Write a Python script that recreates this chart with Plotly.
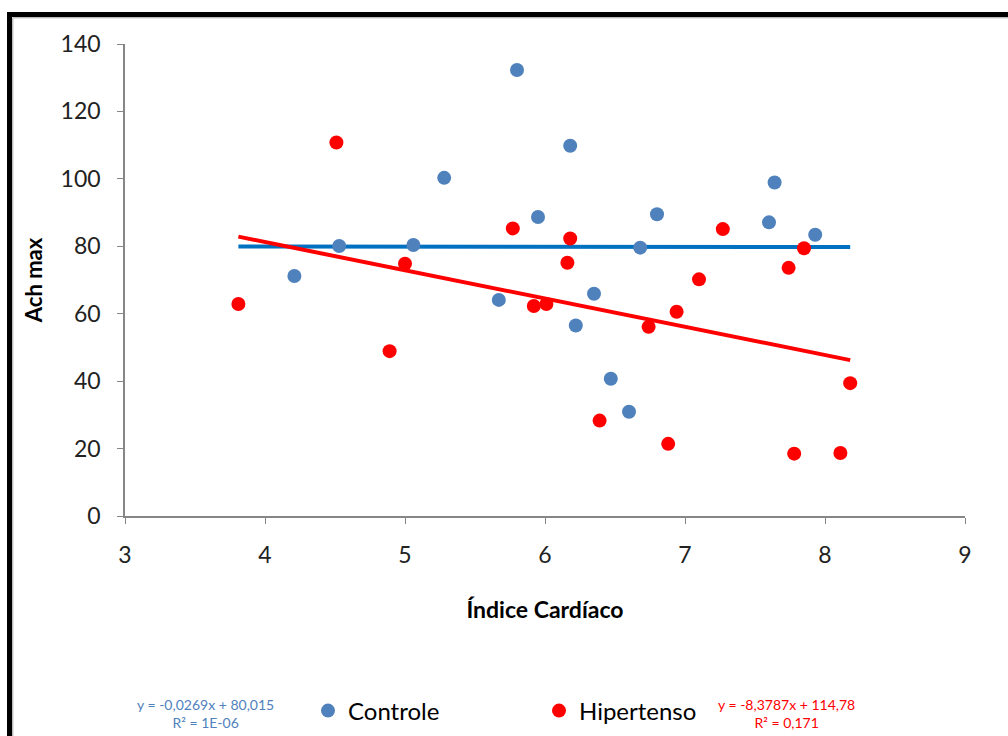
import plotly.graph_objects as go

# Controle series
ctrl_x = [4.21, 4.53, 5.06, 5.28, 5.67, 5.80, 5.95, 6.18, 6.22, 6.35, 6.47, 6.60, 6.68, 6.80, 7.60, 7.64, 7.93]
ctrl_y = [71.2, 80.1, 80.4, 100.3, 64.1, 132.3, 88.7, 109.8, 56.5, 65.9, 40.7, 30.9, 79.6, 89.5, 87.1, 98.9, 83.4]

# Hipertenso series
hip_x = [3.81, 4.51, 4.89, 5.00, 5.77, 5.92, 6.01, 6.16, 6.18, 6.39, 6.74, 6.88, 6.94, 7.10, 7.27, 7.74, 7.78, 7.85, 8.11, 8.18]
hip_y = [62.9, 110.8, 48.9, 74.8, 85.3, 62.3, 62.9, 75.1, 82.3, 28.3, 56.1, 21.4, 60.6, 70.2, 85.1, 73.6, 18.5, 79.4, 18.7, 39.4]

# Trendline coefficients (from chart labels)
ctrl_slope, ctrl_icpt = -0.0269, 80.015
hip_slope, hip_icpt = -8.3787, 114.78
trend_x = [3.81, 8.18]

ctrl_eq = "y = -0,0269x + 80,015<br>R² = 1E-06"
hip_eq = "y = -8,3787x + 114,78<br>R² = 0,171"

FONT = "Lato, 'Open Sans', sans-serif"
BLUE = "#4F81BD"
RED = "#FF0000"

fig = go.Figure()
fig.add_trace(go.Scatter(x=trend_x, y=[ctrl_slope * v + ctrl_icpt for v in trend_x], mode="lines",
                         line=dict(color="#0070C0", width=4), showlegend=False, hoverinfo="skip"))
fig.add_trace(go.Scatter(x=trend_x, y=[hip_slope * v + hip_icpt for v in trend_x], mode="lines",
                         line=dict(color=RED, width=4), showlegend=False, hoverinfo="skip"))
fig.add_trace(go.Scatter(x=ctrl_x, y=ctrl_y, mode="markers", name="Controle",
                         marker=dict(color=BLUE, size=14)))
fig.add_trace(go.Scatter(x=hip_x, y=hip_y, mode="markers", name="Hipertenso",
                         marker=dict(color=RED, size=14)))

L, R, T, B = 125, 43, 44, 220
W, H = 1008, 736
pw, ph = W - L - R, H - T - B

def px(x):
    return (x - L) / pw

def py(y):
    return (H - B - y) / ph

fig.update_layout(
    width=W, height=H,
    margin=dict(l=L, r=R, t=T, b=B, autoexpand=False),
    paper_bgcolor="white", plot_bgcolor="white",
    font=dict(family=FONT, size=20, color="#000000"),
    xaxis=dict(range=[3, 9], dtick=1, showgrid=False, zeroline=False,
               showline=True, linecolor="#868686", linewidth=1.5,
               ticks="outside", ticklen=6, tickcolor="#868686",
               tickfont=dict(size=23, color="#222222"), ticklabelstandoff=12,
               title=dict(text="<b>Índice Cardíaco</b>", font=dict(size=23), standoff=35)),
    yaxis=dict(range=[0, 140], dtick=20, showgrid=False, zeroline=False,
               showline=True, linecolor="#868686", linewidth=1.5,
               ticks="outside", ticklen=6, tickcolor="#868686",
               tickfont=dict(size=23, color="#222222"), ticklabelstandoff=12,
               title=dict(text="<b>Ach max</b>", font=dict(size=22), standoff=12)),
    legend=dict(orientation="h", x=px(308), xanchor="left", y=py(711), yanchor="middle",
                font=dict(size=24), entrywidth=186, entrywidthmode="pixels",
                itemclick=False, bgcolor="rgba(0,0,0,0)"),
    showlegend=True,
)

fig.add_annotation(x=px(205), y=py(713), xref="paper", yref="paper", text=ctrl_eq,
                   xanchor="center", yanchor="middle",
                   showarrow=False, font=dict(size=14, color=BLUE), align="center")
fig.add_annotation(x=px(786), y=py(713), xref="paper", yref="paper", text=hip_eq,
                   xanchor="center", yanchor="middle",
                   showarrow=False, font=dict(size=14, color=RED), align="center")

# outer frame
fig.add_shape(type="rect", xref="paper", yref="paper",
              x0=px(9.5), x1=px(1020), y0=py(14.5), y1=py(760),
              line=dict(color="black", width=5), layer="above")
fig.add_shape(type="rect", xref="paper", yref="paper",
              x0=px(12.8), x1=px(1020), y0=py(17.8), y1=py(760),
              line=dict(color="#A0A0A0", width=1), layer="above")

fig.write_html("out.html")
